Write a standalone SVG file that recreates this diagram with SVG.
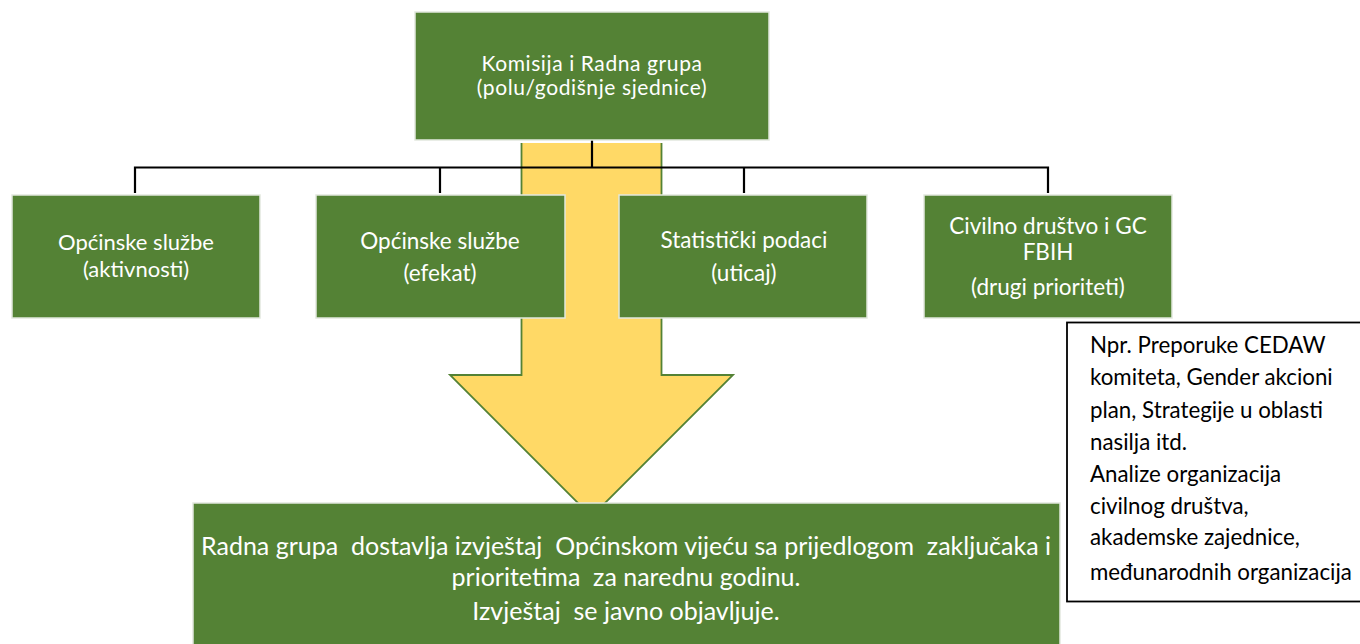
<svg xmlns="http://www.w3.org/2000/svg" width="1360" height="644" viewBox="0 0 1360 644">
<style>
.box{fill:#548235;stroke:#e2e8de;stroke-width:1.5}
.t{font-family:Lato,"Liberation Sans",sans-serif;fill:#ffffff;text-anchor:middle;white-space:pre}
.n{font-family:Lato,"Liberation Sans",sans-serif;fill:#000000}
.c{fill:none;stroke:#000000;stroke-width:2.2}
</style>
<rect width="1360" height="644" fill="#ffffff"/>
<g id="arrow">
<path d="M521.5,143 H661.5 V375 H733 L591.5,516.5 L450,375 H521.5 Z" fill="#FFD966"/>
<path d="M521.5,143 V375 H450 L591.5,516.5 L733,375 H661.5 V143" fill="none" stroke="#548235" stroke-width="1.8"/>
</g>
<g id="connectors">
<path class="c" d="M592,140 V167.5 M135,167.5 H1048 M135,166.5 V193 M440,166.5 V193 M744,166.5 V193 M1048,166.5 V193"/>
</g>
<g id="top">
<rect class="box" x="415" y="12" width="354" height="128"/>
<text class="t" x="592" y="71" font-size="21" letter-spacing="0.6">Komisija i Radna grupa</text>
<text class="t" x="592" y="95" font-size="21" letter-spacing="0.6">(polu/godišnje sjednice)</text>
</g>
<g id="box1">
<rect class="box" x="12" y="195" width="248" height="123"/>
<text class="t" x="136" y="250" font-size="22">Općinske službe</text>
<text class="t" x="136" y="277" font-size="22">(aktivnosti)</text>
</g>
<g id="box2">
<rect class="box" x="316" y="195" width="249" height="123"/>
<text class="t" x="440" y="249" font-size="22.5">Općinske službe</text>
<text class="t" x="440" y="281" font-size="22.5">(efekat)</text>
</g>
<g id="box3">
<rect class="box" x="619" y="195" width="248" height="123"/>
<text class="t" x="744" y="248" font-size="22.5">Statistički podaci</text>
<text class="t" x="744" y="281" font-size="22.5">(uticaj)</text>
</g>
<g id="box4">
<rect class="box" x="924" y="195" width="248" height="123"/>
<text class="t" x="1048" y="234" font-size="22.5">Civilno društvo i GC</text>
<text class="t" x="1048" y="260" font-size="22.5">FBIH</text>
<text class="t" x="1048" y="295" font-size="22.5">(drugi prioriteti)</text>
</g>
<g id="note">
<rect x="1067" y="322.5" width="300" height="279" fill="#ffffff" stroke="#000000" stroke-width="1.8"/>
<text class="n" x="1090" font-size="22.3"><tspan x="1090" y="353">Npr. Preporuke CEDAW</tspan><tspan x="1090" y="385">komiteta, Gender akcioni</tspan><tspan x="1090" y="418">plan, Strategije u oblasti</tspan><tspan x="1090" y="450">nasilja itd.</tspan><tspan x="1090" y="482">Analize organizacija</tspan><tspan x="1090" y="514">civilnog društva,</tspan><tspan x="1090" y="545">akademske zajednice,</tspan><tspan x="1090" y="580">međunarodnih organizacija</tspan></text>
</g>
<g id="bottom">
<rect class="box" x="193" y="503" width="867" height="150"/>
<text class="t" x="626" y="555" font-size="25">Radna grupa  dostavlja izvještaj  Općinskom vijeću sa prijedlogom  zaključaka i</text>
<text class="t" x="626" y="586" font-size="25">prioritetima  za narednu godinu.</text>
<text class="t" x="626" y="620" font-size="25">Izvještaj  se javno objavljuje.</text>
</g>
</svg>
